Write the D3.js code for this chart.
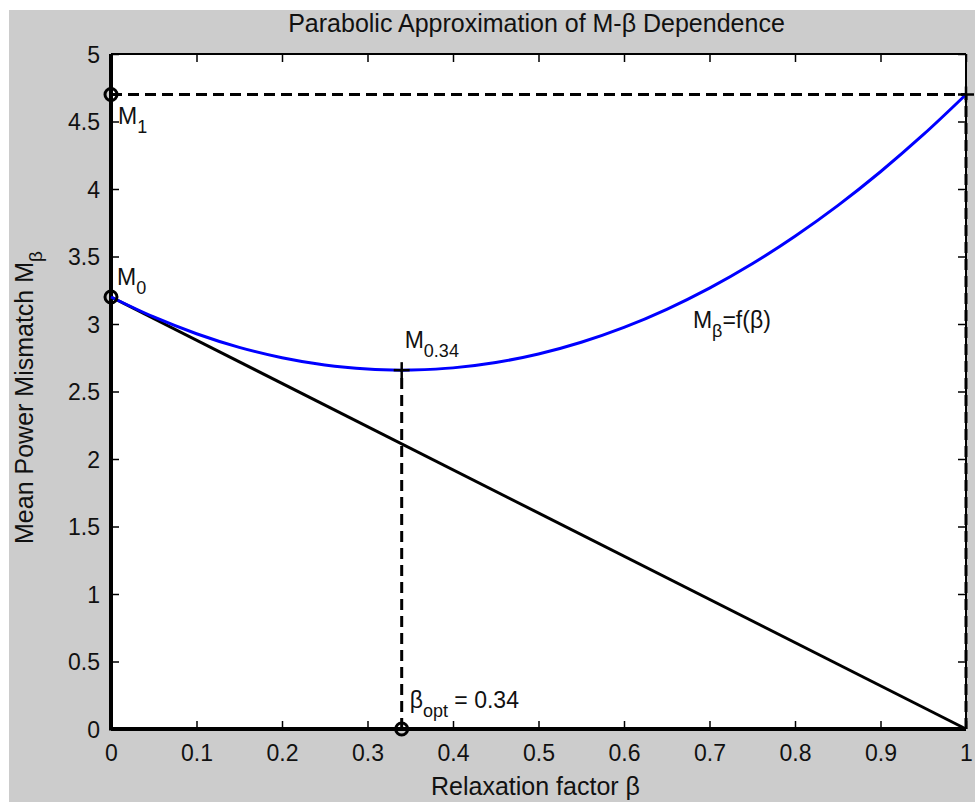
<!DOCTYPE html>
<html>
<head>
<meta charset="utf-8">
<script src="https://cdn.jsdelivr.net/npm/d3@7"></script>
<style>
  html, body { margin: 0; padding: 0; background: #ffffff; }
  svg { display: block; }
  text { font-family: "Liberation Sans", Arial, Helvetica, sans-serif; fill: #111; }
</style>
</head>
<body>
<svg id="chart" width="975" height="803"></svg>
<script>
// ---------------- data ----------------
const betaValues = [0, 0.05, 0.10, 0.15, 0.20, 0.25, 0.30, 0.34, 0.35, 0.40, 0.45, 0.50,
                    0.55, 0.60, 0.65, 0.70, 0.75, 0.80, 0.85, 0.90, 0.95, 1.00];
const mismatchValues = [3.20, 3.052, 2.928, 2.827, 2.750, 2.696, 2.666, 2.658, 2.659, 2.675, 2.715, 2.778,
                        2.865, 2.975, 3.109, 3.266, 3.446, 3.650, 3.877, 4.128, 4.402, 4.70];
const chordBeta = [0, 1];
const chordValues = [3.2, 0];
const betaOpt = 0.34;
const M0 = 3.2;
const M1 = 4.7;
const Mopt = 2.658;
const xTicks = [0, 0.1, 0.2, 0.3, 0.4, 0.5, 0.6, 0.7, 0.8, 0.9, 1];
const xTickLabels = ["0", "0.1", "0.2", "0.3", "0.4", "0.5", "0.6", "0.7", "0.8", "0.9", "1"];
const yTicks = [0, 0.5, 1, 1.5, 2, 2.5, 3, 3.5, 4, 4.5, 5];
const yTickLabels = ["0", "0.5", "1", "1.5", "2", "2.5", "3", "3.5", "4", "4.5", "5"];
const titleText = "Parabolic Approximation of M-\u03B2 Dependence";
const xLabelText = "Relaxation factor \u03B2";
const yLabelMain = "Mean Power Mismatch M";
const yLabelSub = "\u03B2";

// ---------------- layout ----------------
const W = 975, H = 803;
const plot = { left: 111, right: 966, top: 54, bottom: 729 };
const svg = d3.select("#chart");

const x = d3.scaleLinear().domain([0, 1]).range([plot.left, plot.right]);
const y = d3.scaleLinear().domain([0, 5]).range([plot.bottom, plot.top]);

// figure background
svg.append("rect").attr("x", 0).attr("y", 0).attr("width", W).attr("height", H).attr("fill", "#ffffff");
svg.append("rect").attr("x", 9).attr("y", 10).attr("width", W - 9).attr("height", H - 11).attr("fill", "#cccccc");
// axes background
svg.append("rect").attr("x", plot.left).attr("y", plot.top)
  .attr("width", plot.right - plot.left).attr("height", plot.bottom - plot.top).attr("fill", "#ffffff");

// ---------------- axes ----------------
const tickLen = 8;
const gx = svg.append("g").attr("transform", `translate(0,${plot.bottom})`)
  .call(d3.axisBottom(x).tickValues(xTicks).tickFormat((d, i) => xTickLabels[i])
        .tickSizeInner(-tickLen).tickSizeOuter(0).tickPadding(0));
const gxTop = svg.append("g").attr("transform", `translate(0,${plot.top})`)
  .call(d3.axisTop(x).tickValues(xTicks).tickFormat("").tickSizeInner(-tickLen).tickSizeOuter(0));
const gy = svg.append("g").attr("transform", `translate(${plot.left},0)`)
  .call(d3.axisLeft(y).tickValues(yTicks).tickFormat((d, i) => yTickLabels[i])
        .tickSizeInner(-tickLen).tickSizeOuter(0).tickPadding(11));
const gyRight = svg.append("g").attr("transform", `translate(${plot.right},0)`)
  .call(d3.axisRight(y).tickValues(yTicks).tickFormat("").tickSizeInner(-tickLen).tickSizeOuter(0));

[gx, gxTop, gy, gyRight].forEach(g => {
  g.select(".domain").remove();
  g.selectAll(".tick line").attr("stroke", "#000").attr("stroke-width", 1.5);
});
gx.selectAll("text").attr("y", 32).attr("dy", null)
  .style("font-size", "23px").attr("fill", "#111");
gy.selectAll("text").attr("dy", "0.36em")
  .style("font-size", "23px").attr("fill", "#111");

// box (top/right thin)
svg.append("line").attr("x1", plot.left).attr("x2", plot.right).attr("y1", plot.top).attr("y2", plot.top)
  .attr("stroke", "#000").attr("stroke-width", 2);
svg.append("line").attr("x1", plot.right).attr("x2", plot.right).attr("y1", plot.top).attr("y2", plot.bottom)
  .attr("stroke", "#000").attr("stroke-width", 2);
// left / bottom thick
svg.append("line").attr("x1", plot.left).attr("x2", plot.left).attr("y1", plot.top).attr("y2", plot.bottom + 1.5)
  .attr("stroke", "#000").attr("stroke-width", 4);
svg.append("line").attr("x1", plot.left).attr("x2", plot.right).attr("y1", plot.bottom).attr("y2", plot.bottom)
  .attr("stroke", "#000").attr("stroke-width", 4);

// ---------------- marks ----------------
const dash = "11,6";
// horizontal dashed at M1
svg.append("line").attr("x1", x(0)).attr("x2", x(1)).attr("y1", y(M1)).attr("y2", y(M1))
  .attr("stroke", "#000").attr("stroke-width", 3).attr("stroke-dasharray", dash);
// vertical dashed at beta = 1
svg.append("line").attr("x1", x(1)).attr("x2", x(1)).attr("y1", y(0)).attr("y2", y(M1))
  .attr("stroke", "#000").attr("stroke-width", 3).attr("stroke-dasharray", dash);
// vertical dashed at beta opt
svg.append("line").attr("x1", x(betaOpt)).attr("x2", x(betaOpt)).attr("y1", y(0)).attr("y2", y(Mopt))
  .attr("stroke", "#000").attr("stroke-width", 3).attr("stroke-dasharray", dash);

// chord line
const chord = chordBeta.map((b, i) => [b, chordValues[i]]);
svg.append("path").datum(chord)
  .attr("d", d3.line().x(d => x(d[0])).y(d => y(d[1])))
  .attr("fill", "none").attr("stroke", "#000").attr("stroke-width", 3);

// parabola
const curve = betaValues.map((b, i) => [b, mismatchValues[i]]);
svg.append("path").datum(curve)
  .attr("d", d3.line().curve(d3.curveCatmullRom).x(d => x(d[0])).y(d => y(d[1])))
  .attr("fill", "none").attr("stroke", "#0000ff").attr("stroke-width", 3);

// circle markers
const circles = [[0, M1], [0, M0], [betaOpt, 0]];
svg.selectAll("circle.mk").data(circles).join("circle")
  .attr("class", "mk").attr("cx", d => x(d[0])).attr("cy", d => y(d[1])).attr("r", 6)
  .attr("fill", "none").attr("stroke", "#000").attr("stroke-width", 3);

// plus markers
const pluses = [[betaOpt, Mopt], [1, M1]];
pluses.forEach(p => {
  const cx = x(p[0]), cy = y(p[1]), s = 8;
  svg.append("line").attr("x1", cx - s).attr("x2", cx + s).attr("y1", cy).attr("y2", cy)
    .attr("stroke", "#000").attr("stroke-width", 2.5);
  svg.append("line").attr("x1", cx).attr("x2", cx).attr("y1", cy - s).attr("y2", cy + s)
    .attr("stroke", "#000").attr("stroke-width", 2.5);
});

// ---------------- annotations ----------------
function subLabel(px, py, main, sub, rest) {
  const t = svg.append("text").attr("x", px).attr("y", py).style("font-size", "23px");
  t.append("tspan").text(main);
  t.append("tspan").attr("dy", 9).style("font-size", "18px").text(sub);
  if (rest) t.append("tspan").attr("dy", -9).text(rest);
  return t;
}
subLabel(x(0) + 7, y(M1) + 29, "M", "1");
subLabel(x(0) + 6, y(M0) - 12, "M", "0");
subLabel(x(betaOpt) + 3, y(Mopt) - 22, "M", "0.34");
subLabel(x(betaOpt) + 8, y(0) - 21, "\u03B2", "opt", " = 0.34");
subLabel(x(0.68) + 0.5, y(2.97), "M", "\u03B2", "=f(\u03B2)");

// ---------------- titles ----------------
svg.append("text").attr("x", (plot.left + plot.right) / 2 - 2).attr("y", 32)
  .attr("text-anchor", "middle").style("font-size", "25px").text(titleText);
svg.append("text").attr("x", (plot.left + plot.right) / 2 - 3).attr("y", 795)
  .attr("text-anchor", "middle").style("font-size", "25px").text(xLabelText);
const yl = svg.append("text")
  .attr("transform", `translate(33,${(plot.top + plot.bottom) / 2 + 6}) rotate(-90)`)
  .attr("text-anchor", "middle").style("font-size", "25px");
yl.append("tspan").text(yLabelMain);
yl.append("tspan").attr("dy", 9).style("font-size", "19px").text(yLabelSub);
</script>
</body>
</html>
